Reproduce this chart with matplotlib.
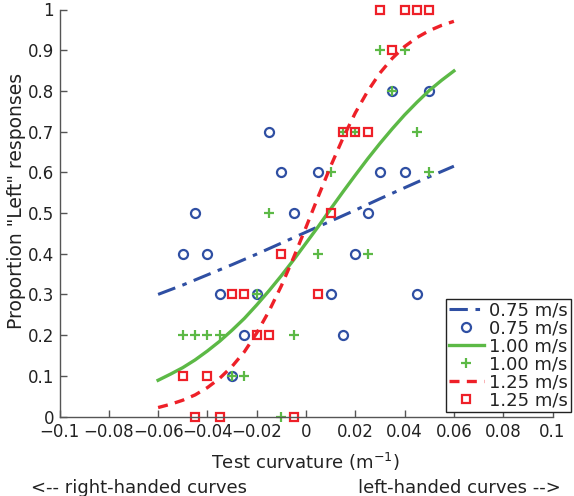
import matplotlib
matplotlib.use("Agg")
import matplotlib.pyplot as plt

# ---- data ----
curv_075 = [-0.05, -0.045, -0.04, -0.035, -0.03, -0.025, -0.02, -0.015, -0.01, -0.005,
            0.005, 0.01, 0.015, 0.02, 0.025, 0.03, 0.035, 0.04, 0.045, 0.05]
prop_075 = [0.4, 0.5, 0.4, 0.3, 0.1, 0.2, 0.3, 0.7, 0.6, 0.5,
            0.6, 0.3, 0.2, 0.4, 0.5, 0.6, 0.8, 0.6, 0.3, 0.8]

curv_100 = curv_075
prop_100 = [0.2, 0.2, 0.2, 0.2, 0.1, 0.1, 0.3, 0.5, 0.0, 0.2,
            0.4, 0.6, 0.7, 0.7, 0.4, 0.9, 0.8, 0.9, 0.7, 0.6]

curv_125 = curv_075
prop_125 = [0.1, 0.0, 0.1, 0.0, 0.3, 0.3, 0.2, 0.2, 0.4, 0.0,
            0.3, 0.5, 0.7, 0.7, 0.7, 1.0, 0.9, 1.0, 1.0, 1.0]

# fitted curves
fit_x_075 = [-0.06, -0.05, -0.04, -0.03, -0.02, -0.01, 0.0, 0.01, 0.02, 0.03, 0.04, 0.05, 0.06]
fit_y_075 = [0.300, 0.323, 0.348, 0.373, 0.399, 0.426, 0.453, 0.480, 0.507, 0.535, 0.562, 0.589, 0.615]

fit_x = [-0.06, -0.055, -0.05, -0.045, -0.04, -0.035, -0.03, -0.025, -0.02, -0.015, -0.01, -0.005,
         0.0, 0.005, 0.01, 0.015, 0.02, 0.025, 0.03, 0.035, 0.04, 0.045, 0.05, 0.055, 0.06]
fit_y_100 = [0.089, 0.104, 0.120, 0.139, 0.161, 0.185, 0.212, 0.241, 0.274, 0.309, 0.346, 0.385,
             0.426, 0.467, 0.510, 0.552, 0.593, 0.633, 0.671, 0.707, 0.741, 0.772, 0.801, 0.826, 0.849]
fit_y_125 = [0.022, 0.030, 0.040, 0.053, 0.071, 0.094, 0.123, 0.159, 0.205, 0.259, 0.321, 0.391,
             0.465, 0.541, 0.615, 0.684, 0.746, 0.799, 0.844, 0.880, 0.909, 0.931, 0.948, 0.961, 0.971]

xticks = [-0.1, -0.08, -0.06, -0.04, -0.02, 0, 0.02, 0.04, 0.06, 0.08, 0.1]
xticklabels = ["\u22120.1", "\u22120.08", "\u22120.06", "\u22120.04", "\u22120.02", "0",
               "0.02", "0.04", "0.06", "0.08", "0.1"]
yticks = [0, 0.1, 0.2, 0.3, 0.4, 0.5, 0.6, 0.7, 0.8, 0.9, 1]
yticklabels = ["0", "0.1", "0.2", "0.3", "0.4", "0.5", "0.6", "0.7", "0.8", "0.9", "1"]
speed_labels = ["0.75 m/s", "1.00 m/s", "1.25 m/s"]

BLUE = "#2f4fa3"
GREEN = "#5cb946"
RED = "#ee2028"
AXC = "#555555"
TXT = "#222222"

plt.rcParams['font.family'] = ['DejaVu Sans']
fig = plt.figure(figsize=(5.74, 4.96), dpi=100)
ax = fig.add_axes([59.5 / 574, 1 - 416.5 / 496, 493 / 574, 407 / 496])

l1, = ax.plot(fit_x_075, fit_y_075, linestyle=(0, (6, 2.5, 1.5, 2.5)), color=BLUE, lw=2.2)
m1, = ax.plot(curv_075, prop_075, 'o', ms=6.5, mfc='none', mec=BLUE, mew=1.6, linestyle='none')
l2, = ax.plot(fit_x, fit_y_100, '-', color=GREEN, lw=2.4)
m2, = ax.plot(curv_100, prop_100, '+', ms=7, mec=GREEN, mew=1.6, linestyle='none')
l3, = ax.plot(fit_x, fit_y_125, linestyle=(0, (3, 2.2)), color=RED, lw=2.4)
m3, = ax.plot(curv_125, prop_125, 's', ms=6, mfc='none', mec=RED, mew=1.6, linestyle='none')
for a in (m1, m2, m3):
    a.set_clip_on(False)

ax.set_xlim(-0.1, 0.1)
ax.set_ylim(0, 1)
ax.set_xticks(xticks)
ax.set_xticklabels(xticklabels)
ax.set_yticks(yticks)
ax.set_yticklabels(yticklabels)
ax.spines['top'].set_visible(False)
ax.spines['right'].set_visible(False)
for s in ('left', 'bottom'):
    ax.spines[s].set_color(AXC)
    ax.spines[s].set_linewidth(1.0)
ax.tick_params(direction='in', length=5, width=1.0, color=AXC, labelsize=12, labelcolor=TXT)
ax.tick_params(axis='x', pad=5)
ax.tick_params(axis='y', pad=4)

ax.set_xlabel("Test curvature (m$^{-1}$)", fontsize=13, color=TXT)
ax.xaxis.set_label_coords((305 - 59.5) / 493, (416.5 - 462) / 407)
ax.set_ylabel('Proportion "Left" responses', fontsize=13.5, color=TXT)
ax.yaxis.set_label_coords((17 - 59.5) / 493, (416.5 - 201) / 407)
ax.xaxis.label.set_va('center')
ax.yaxis.label.set_va('center')

fig.text(31 / 574, 1 - 488 / 496, "<-- right-handed curves", fontsize=13, color=TXT, va='center', ha='left')
fig.text(561 / 574, 1 - 488 / 496, "left-handed curves -->", fontsize=13, color=TXT, va='center', ha='right')

leg = ax.legend([l1, m1, l2, m2, l3, m3],
                [speed_labels[0], speed_labels[0], speed_labels[1], speed_labels[1],
                 speed_labels[2], speed_labels[2]],
                loc='lower left', bbox_to_anchor=(446 / 574, 1 - 412 / 496),
                bbox_transform=fig.transFigure, fontsize=13, frameon=True, fancybox=False,
                framealpha=1, edgecolor='#222222', borderpad=0.15, labelspacing=0.0,
                handlelength=1.95, handletextpad=0.3, borderaxespad=0)
leg.get_frame().set_linewidth(1.0)
for t in leg.get_texts():
    t.set_color(TXT)

fig.savefig("out.png", dpi=100)
